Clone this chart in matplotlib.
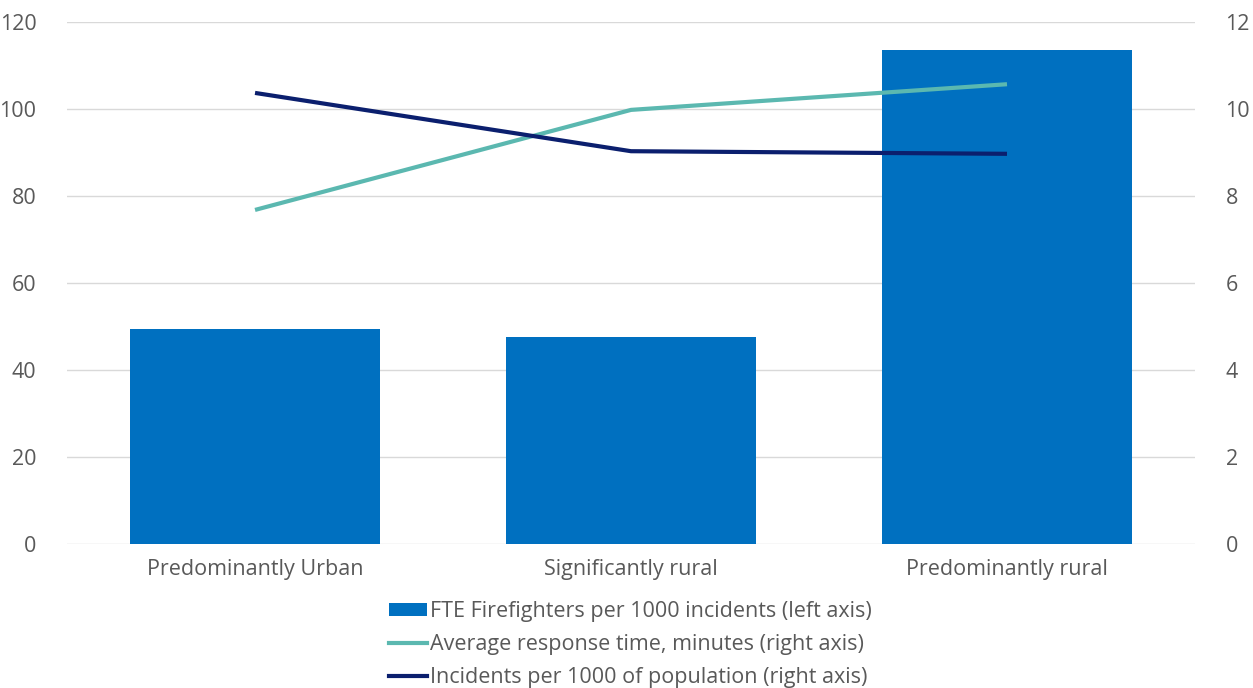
import matplotlib.pyplot as plt
from matplotlib.patches import Patch
from matplotlib.lines import Line2D

categories = ["Predominantly Urban", "Significantly rural", "Predominantly rural"]
firefighters = [49.4, 47.6, 113.6]
response_time = [7.68, 9.98, 10.57]
incidents = [10.37, 9.03, 8.97]

left_ticks = [0, 20, 40, 60, 80, 100, 120]
right_ticks = [0, 2, 4, 6, 8, 10, 12]

bar_color = "#0070C0"
teal = "#5BB8B0"
navy = "#0B1F6E"
text_color = "#595959"

plt.rcParams["font.family"] = ["Open Sans", "DejaVu Sans"]

fig = plt.figure(figsize=(12.53, 6.88), dpi=100)
ax = fig.add_axes([0.0535, 0.2093, 0.9002, 0.7587])
ax2 = ax.twinx()

x = range(len(categories))
ax.bar(x, firefighters, width=0.667, color=bar_color, zorder=2)
ax2.plot(x, response_time, color=teal, linewidth=3, solid_capstyle="butt")
ax2.plot(x, incidents, color=navy, linewidth=3, solid_capstyle="butt")

ax.set_ylim(0, 120)
ax2.set_ylim(0, 12)
ax.set_xlim(-0.5, 2.5)
ax.set_yticks(left_ticks)
ax2.set_yticks(right_ticks)
ax.set_xticks(list(x))
ax.set_xticklabels(categories)

ax.grid(axis="y", color="#D9D9D9", linewidth=1, zorder=0)
ax.set_axisbelow(True)
for a in (ax, ax2):
    for s in a.spines.values():
        s.set_visible(False)
    a.tick_params(length=0, colors=text_color, labelsize=15.5)
ax.tick_params(axis="y", pad=22)
ax2.tick_params(axis="y", pad=22)
ax.tick_params(axis="x", pad=11)

handles = [
    Patch(facecolor=bar_color),
    Line2D([], [], color=teal, linewidth=3),
    Line2D([], [], color=navy, linewidth=3),
]
labels = [
    "FTE Firefighters per 1000 incidents (left axis)",
    "Average response time, minutes (right axis)",
    "Incidents per 1000 of population (right axis)",
]
fig.legend(handles, labels, loc="lower center", bbox_to_anchor=(0.503, -0.028),
           ncol=1, frameon=False, fontsize=15.5, labelcolor=text_color,
           handlelength=1.75, handleheight=0.55, handletextpad=0.15,
           labelspacing=0.55)

fig.savefig("out.png", dpi=100)
